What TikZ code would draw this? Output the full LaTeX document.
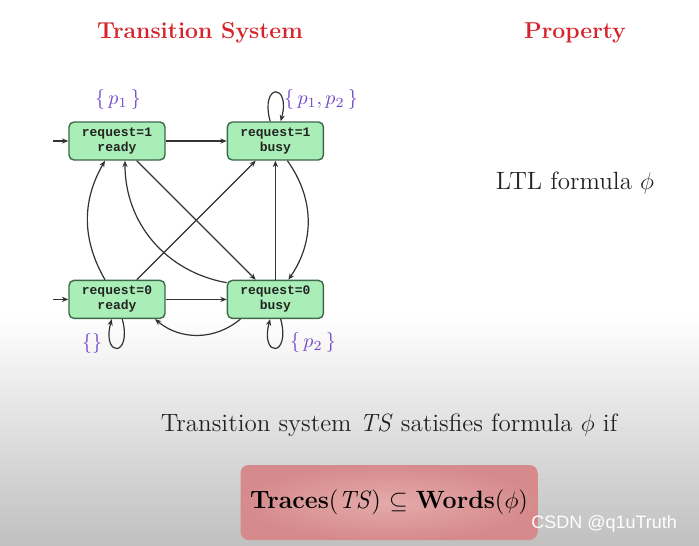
\documentclass[tikz,border=0pt]{standalone}
\usepackage{amsmath}
\usepackage{amssymb}
\usepackage{fontspec}
\setmonofont{Liberation Mono}
\setsansfont{Liberation Sans}
\usetikzlibrary{arrows.meta,positioning,calc}
\definecolor{TitleRed}{RGB}{214,36,44}
\definecolor{StateGreen}{RGB}{168,238,182}
\definecolor{StateLine}{RGB}{62,104,74}
\definecolor{PropPurple}{RGB}{112,72,200}
\definecolor{EdgeGray}{RGB}{50,50,50}
\definecolor{TextDark}{RGB}{35,35,35}
\definecolor{BoxPink}{RGB}{214,138,140}
\definecolor{BoxPinkLight}{RGB}{228,170,170}
\definecolor{BgMid}{RGB}{218,218,218}
\definecolor{BgLow}{RGB}{192,192,192}
\tikzset{
  tsstate/.style  ={rectangle, rounded corners=2.5pt, draw=StateLine, line width=.7pt,
                    fill=StateGreen, text=TextDark, align=center,
                    font=\fontsize{6.5}{7.5}\selectfont\ttfamily\bfseries,
                    minimum width=48pt, minimum height=19pt, inner sep=1pt},
  tsedge/.style   ={-{Stealth[length=3.2pt,width=2.6pt]}, draw=EdgeGray, line width=.6pt},
  aplabel/.style  ={text=PropPurple, font=\fontsize{10}{12}\selectfont, inner sep=1pt},
  titletext/.style={text=TitleRed, font=\fontsize{11.5}{14}\selectfont\bfseries},
  bodytext/.style ={text=TextDark, font=\fontsize{12.5}{15}\selectfont},
  goalbox/.style  ={rectangle, rounded corners=4pt, shade, inner color=BoxPinkLight,
                    outer color=BoxPink, text=black, minimum width=148.5pt,
                    minimum height=37.5pt, font=\fontsize{12.5}{15}\selectfont},
  every loop/.style={min distance=20pt},
}

\begin{document}
\begin{tikzpicture}[x=0.5pt, y=-0.5pt, node distance=30.5pt]
  \useasboundingbox (0,0) rectangle (699,545);
  \fill[white] (0,0) rectangle (699,315);
  \shade[top color=white, middle color=BgMid, bottom color=BgLow] (0,315) rectangle (699,545);

  \node[titletext] (tstitle) at (200,33) {Transition System};
  \node[titletext] (proptitle) at (575,33) {Property};
  \node[bodytext] (ltl) at (575,183) {LTL formula $\phi$};

  \node[tsstate] (s1) at (117,141) {request=1\\ready};
  \node[tsstate,right=of s1] (s2) {request=1\\busy};
  \node[tsstate,below=59.5pt of s1] (s3) {request=0\\ready};
  \node[tsstate,right=of s3] (s4) {request=0\\busy};

  \node[aplabel] (l1) at (118,100) {$\{\,p_1\,\}$};
  \node[aplabel] (l2) at (321,100) {$\{\,p_1, p_2\,\}$};
  \node[aplabel] (l3) at (92,343) {$\{\}$};
  \node[aplabel] (l4) at (313,342) {$\{\,p_2\,\}$};

  \coordinate[left=7.5pt of s1] (in1);
  \coordinate[left=7.5pt of s3] (in3);
  \draw[tsedge] (in1) -- (s1);
  \draw[tsedge] (in3) -- (s3);

  \foreach \a/\b in {s1/s2,s3/s4,s4/s2,s1/s4,s3/s2}{\draw[tsedge] (\a) -- (\b);}

  \draw[tsedge] ([xshift=-6pt]s3.north) to[bend left=30] ([xshift=-6pt]s1.south);
  \draw[tsedge] ([yshift=-1.5pt]s4.north west) to[bend left=40] ([xshift=4pt]s1.south);
  \draw[tsedge] ([xshift=6pt]s2.south) to[bend left=35] ([xshift=6.5pt]s4.north);
  \draw[tsedge] ([xshift=-17.5pt]s4.south) to[bend left=40] ([xshift=19pt]s3.south);

  \draw[tsedge] (s2) to[loop above] (s2);
  \draw[tsedge] (s3) to[loop below] (s3);
  \draw[tsedge] (s4) to[loop below] (s4);

  \node[bodytext] (sat) at (389,425) {Transition system \textit{TS} satisfies formula $\phi$ if};
  \node[goalbox] (goal) at (389,502.5) {\textbf{Traces}(\textit{TS}) $\subseteq$ \textbf{Words}($\phi$)};
  \node[text=white, font=\sffamily\fontsize{9}{11}\selectfont, anchor=east] (mark) at (684,524) {CSDN @q1uTruth};
\end{tikzpicture}
\end{document}
